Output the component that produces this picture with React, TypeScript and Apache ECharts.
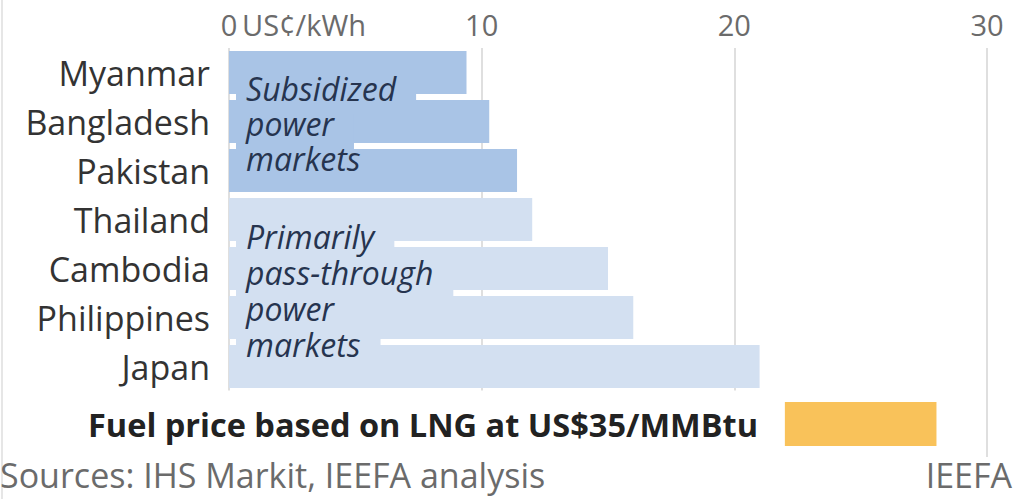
import React, { useEffect, useRef } from 'react';
import * as echarts from 'echarts';

const countries = ['Myanmar', 'Bangladesh', 'Pakistan', 'Thailand', 'Cambodia', 'Philippines', 'Japan'];
const costs = [9.4, 10.3, 11.4, 12.0, 15.0, 16.0, 21.0];
const marketType = ['subsidized', 'subsidized', 'subsidized', 'pass', 'pass', 'pass', 'pass'];
const fuelLabel = ['Fuel price based on LNG at US$35/MMBtu'];
const fuelRange = [22, 28];
const axisMin = 0;
const axisMax = 30;
const axisStep = 10;
const unitLabel = 'US¢/kWh';
const subsidizedNote = ['Subsidized', 'power', 'markets'];
const passNote = ['Primarily', 'pass-through', 'power', 'markets'];
const sourceText = 'Sources: IHS Markit, IEEFA analysis';
const creditText = 'IEEFA';

const COLORS: Record<string, string> = {
  subsidized: '#a9c4e6',
  pass: '#d3e0f1',
};
const FUEL_COLOR = '#f9c25a';
const FONT = '"Open Sans", "Noto Sans", sans-serif';
const NOTE_FONT = `italic 32px ${FONT}`;

export default function App() {
  const ref = useRef<HTMLDivElement>(null);
  useEffect(() => {
    if (!ref.current) return;
    const chart = echarts.init(ref.current, undefined, { renderer: 'svg' });
    const splitLine = { show: true, lineStyle: { color: '#d4d4d4', width: 1.5 } };
    const textWidth = (t: string) => {
      const el = new (echarts.graphic as any).Text({ style: { text: t, font: NOTE_FONT } });
      return el.getBoundingRect().width;
    };
    const note = (lines: string[], top: number, bg: string, step: number) => {
      const rects = lines.map((t, i) => ({
        type: 'rect',
        left: 236,
        top: top + i * step + 8,
        z: 9,
        shape: { width: textWidth(t) + 30, height: i === lines.length - 1 ? step - 8 : step + 10 },
        style: { fill: bg },
      }));
      const text = {
        type: 'text',
        left: 246,
        top,
        z: 10,
        style: { text: lines.join('\n'), font: NOTE_FONT, fill: '#26344f', lineHeight: step },
      };
      return [...rects, text];
    };
    const option: any = {
      animation: false,
      textStyle: { fontFamily: FONT },
      grid: [
        { left: 229, right: 28, top: 48, height: 343 },
        { left: 229, right: 28, top: 391, height: 66 },
      ],
      xAxis: [
        {
          gridIndex: 0,
          type: 'value',
          position: 'top',
          min: axisMin,
          max: axisMax,
          interval: axisStep,
          axisLine: { show: false },
          axisTick: { show: false },
          axisLabel: { color: '#6b6b6b', fontSize: 29, margin: 9, fontFamily: FONT },
          splitLine,
        },
        {
          gridIndex: 1,
          type: 'value',
          min: axisMin,
          max: axisMax,
          interval: axisStep,
          axisLine: { show: false },
          axisTick: { show: false },
          axisLabel: { show: false },
          splitLine,
        },
      ],
      yAxis: [
        {
          gridIndex: 0,
          type: 'category',
          inverse: true,
          data: countries,
          axisLine: { show: false },
          axisTick: { show: false },
          axisLabel: { color: '#333', fontSize: 34, margin: 19, fontFamily: FONT },
        },
        {
          gridIndex: 1,
          type: 'category',
          data: fuelLabel,
          z: 8,
          axisLine: { show: false },
          axisTick: { show: false },
          axisLabel: {
            color: '#222',
            fontSize: 32.5,
            fontWeight: 'bold',
            fontFamily: FONT,
            margin: -535,
            backgroundColor: '#ffffff',
            padding: [17, 6, 17, 6],
          },
        },
      ],
      series: [
        {
          type: 'bar',
          xAxisIndex: 0,
          yAxisIndex: 0,
          barWidth: 43,
          data: costs.map((v, i) => ({ value: v, itemStyle: { color: COLORS[marketType[i]] } })),
        },
        {
          type: 'bar',
          xAxisIndex: 1,
          yAxisIndex: 1,
          stack: 'fuel',
          barWidth: 44,
          itemStyle: { color: 'rgba(0,0,0,0)' },
          data: [fuelRange[0]],
        },
        {
          type: 'bar',
          xAxisIndex: 1,
          yAxisIndex: 1,
          stack: 'fuel',
          barWidth: 44,
          itemStyle: { color: FUEL_COLOR },
          data: [fuelRange[1] - fuelRange[0]],
        },
      ],
    };
    chart.setOption(option);
    const p0 = chart.convertToPixel({ xAxisIndex: 0 }, 0) as number;
    chart.setOption({
      graphic: [
        {
          type: 'rect',
          left: 1,
          top: 0,
          shape: { width: 2, height: 499 },
          style: { fill: '#e6e6e6' },
        },
        {
          type: 'text',
          left: p0 + 13,
          top: 10,
          style: { text: unitLabel, font: `29px ${FONT}`, fill: '#6b6b6b' },
        },
        ...note(subsidizedNote, 71, COLORS.subsidized, 35),
        ...note(passNote, 218, COLORS.pass, 36),
        {
          type: 'text',
          left: 0,
          top: 458,
          style: { text: sourceText, font: `34px ${FONT}`, fill: '#6b6b6b' },
        },
        {
          type: 'text',
          right: 3,
          top: 458,
          style: { text: creditText, font: `34px ${FONT}`, fill: '#6b6b6b' },
        },
      ],
    });
    return () => chart.dispose();
  }, []);
  return (
    <div
      ref={ref}
      style={{ position: 'fixed', left: 0, top: 0, width: 1015, height: 499, background: '#fff' }}
    />
  );
}
